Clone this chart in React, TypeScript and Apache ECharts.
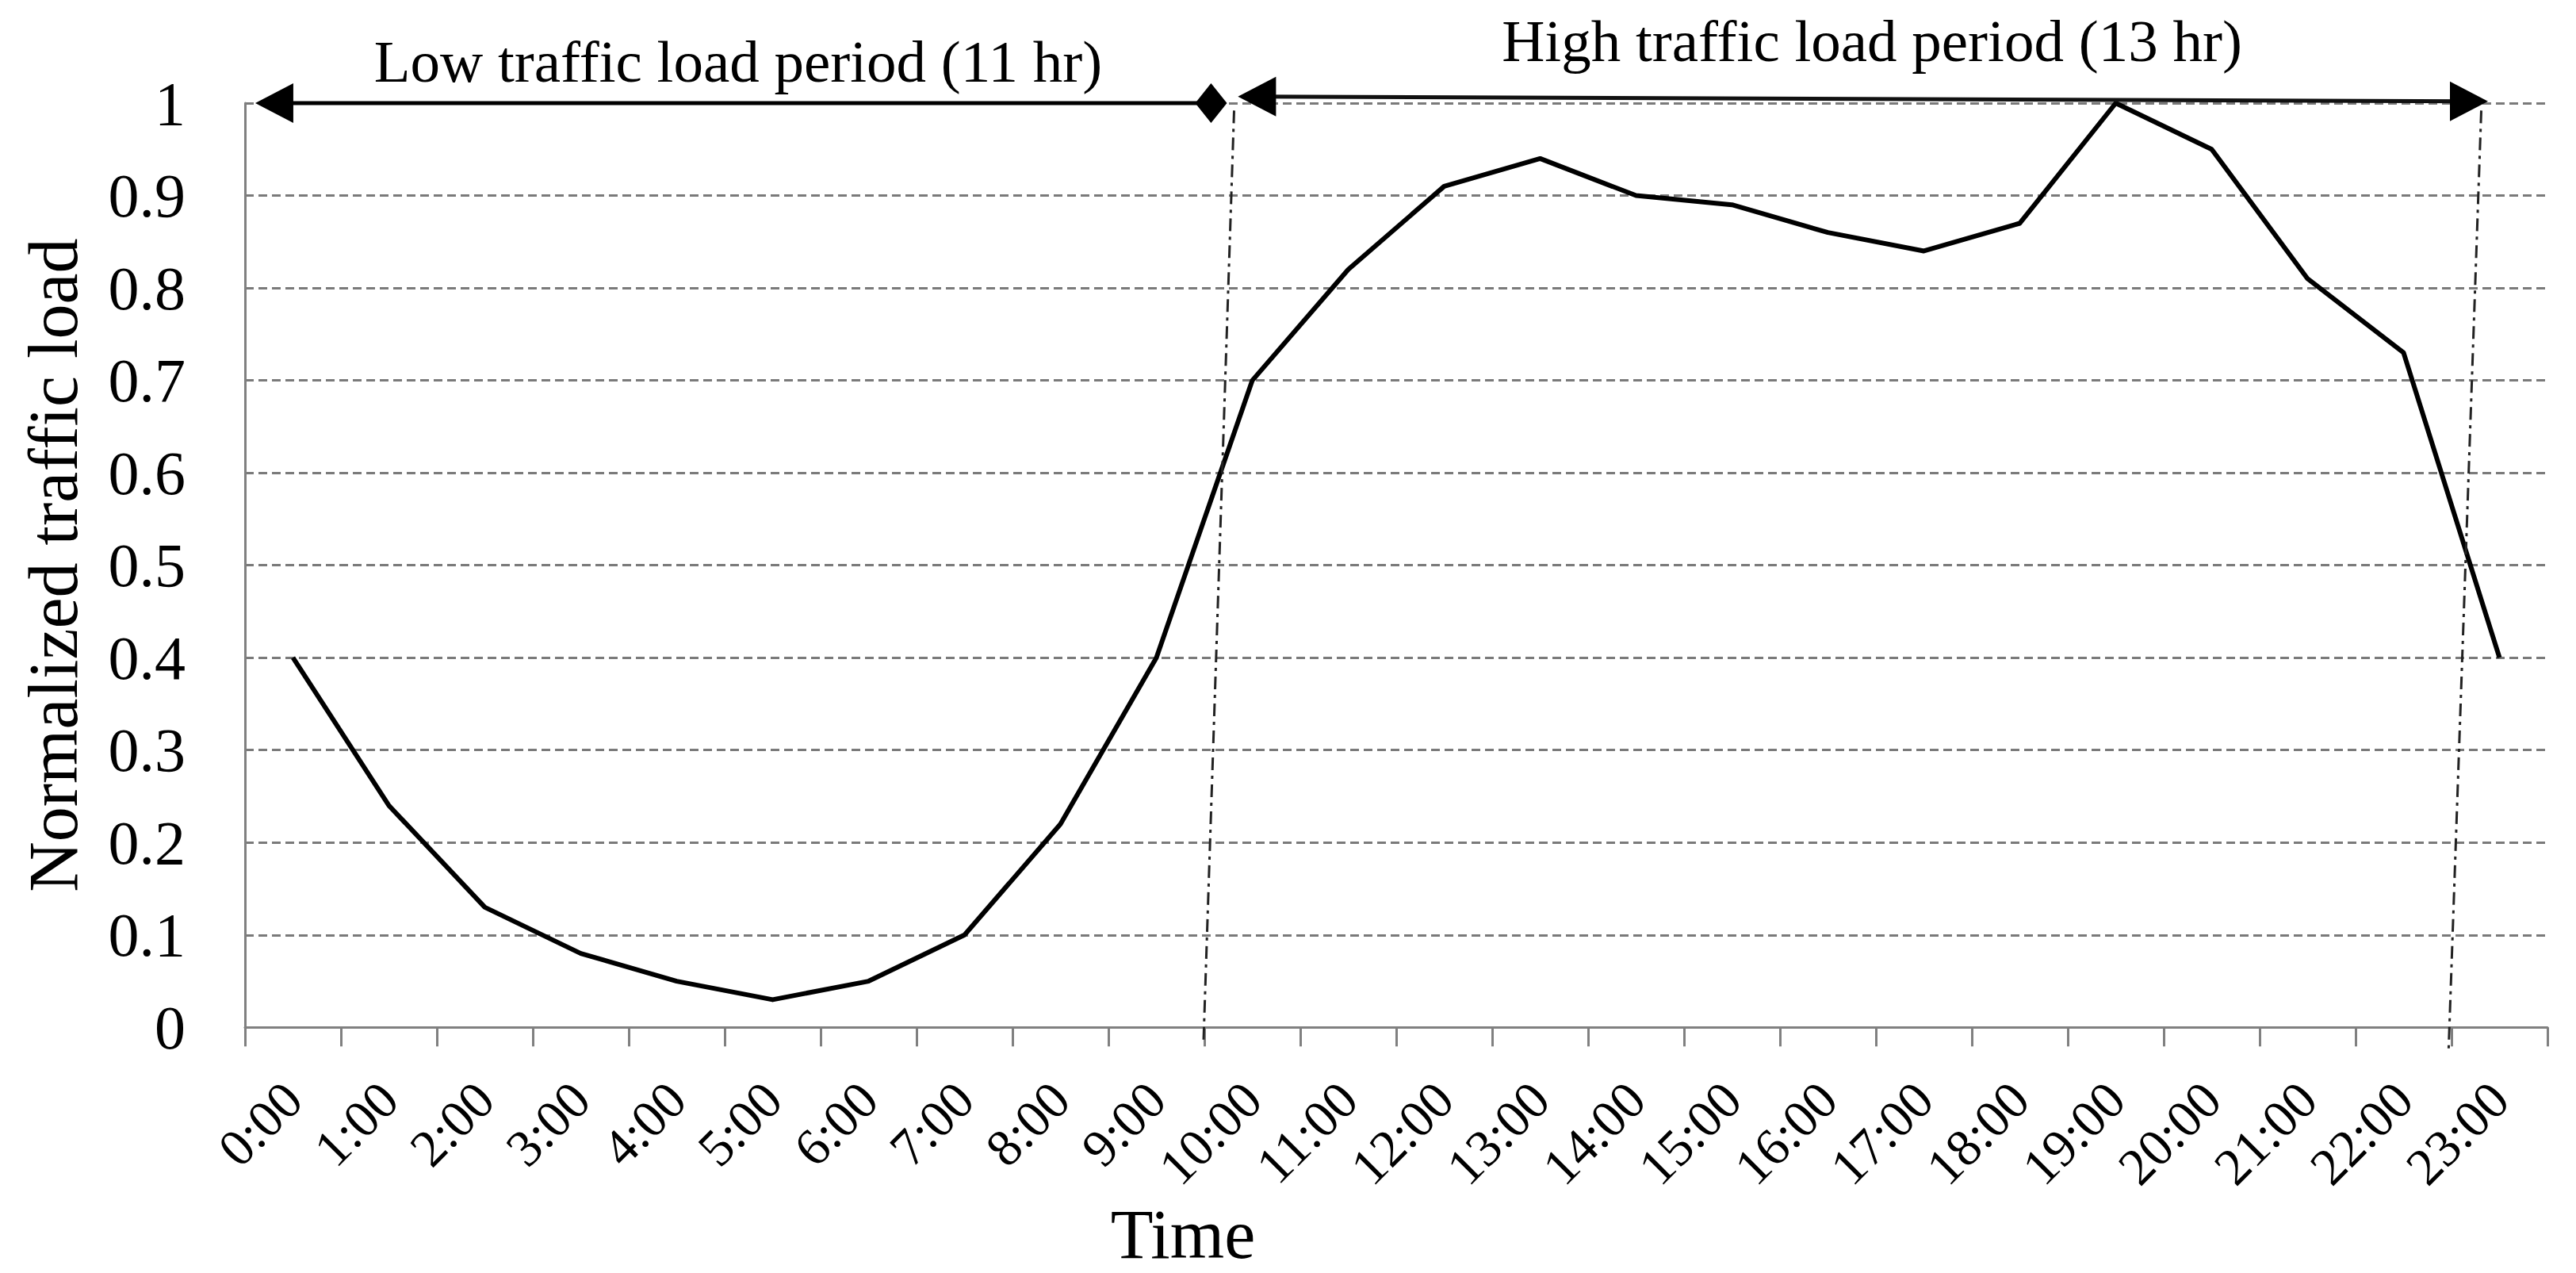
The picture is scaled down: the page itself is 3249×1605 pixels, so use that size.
import React, { useEffect, useRef } from "react";
import * as echarts from "echarts";

// ---------- data ----------
const hours = [
  "0:00", "1:00", "2:00", "3:00", "4:00", "5:00", "6:00", "7:00",
  "8:00", "9:00", "10:00", "11:00", "12:00", "13:00", "14:00", "15:00",
  "16:00", "17:00", "18:00", "19:00", "20:00", "21:00", "22:00", "23:00",
];
const trafficLoad = [
  0.40, 0.24, 0.13, 0.08, 0.05, 0.03, 0.05, 0.10, 0.22, 0.40, 0.70, 0.82,
  0.91, 0.94, 0.90, 0.89, 0.86, 0.84, 0.87, 1.00, 0.95, 0.81, 0.73, 0.40,
];
const yTickLabels = ["0", "0.1", "0.2", "0.3", "0.4", "0.5", "0.6", "0.7", "0.8", "0.9", "1"];
const lowPeriodLabel = "Low traffic load period (11 hr)";
const highPeriodLabel = "High traffic load period (13 hr)";
const xAxisTitle = "Time";
const yAxisTitle = "Normalized traffic load";

// ---------- layout ----------
const W = 3249;
const H = 1605;
const PLOT_LEFT = 309;
const PLOT_RIGHT = 3213;
const PLOT_TOP = 130;
const PLOT_BOTTOM = 1307;
const FONT = '"Liberation Serif", "Times New Roman", serif';

const catW = (PLOT_RIGHT - PLOT_LEFT) / hours.length;
const xAt = (h: number) => PLOT_LEFT + h * catW; // h = position in hours from the left edge
const yAt = (v: number) => PLOT_BOTTOM - v * (PLOT_BOTTOM - PLOT_TOP);

export default function App() {
  const ref = useRef<HTMLDivElement>(null);

  useEffect(() => {
    const chart = echarts.init(ref.current!, null, { renderer: "svg" });

    const AL = 48; // arrowhead length
    const AH = 25; // arrowhead half width

    // low period arrow
    const lowTipX = xAt(0.107), lowY = yAt(1.0);
    const diamondX = xAt(10.07), diamondY = yAt(1.0);
    // high period arrow
    const hiLX = xAt(10.35), hiLY = yAt(1.007);
    const hiRX = xAt(23.38), hiRY = yAt(1.002);

    const leftTri = (tx: number, ty: number) => [[tx, ty], [tx + AL, ty - AH], [tx + AL, ty + AH]];
    const rightTri = (tx: number, ty: number) => [[tx, ty], [tx - AL, ty - AH], [tx - AL, ty + AH]];

    const dashDot = { stroke: "#222", lineWidth: 3, lineDash: [16, 7, 4, 7] };

    chart.setOption({
      animation: false,
      backgroundColor: "#ffffff",
      grid: {
        left: PLOT_LEFT,
        right: W - PLOT_RIGHT,
        top: PLOT_TOP,
        bottom: H - PLOT_BOTTOM,
        containLabel: false,
      },
      xAxis: {
        type: "category",
        data: hours,
        boundaryGap: true,
        name: xAxisTitle,
        nameLocation: "middle",
        nameGap: 192,
        nameTextStyle: {
          fontFamily: FONT,
          fontSize: 88,
          color: "#000",
          padding: [0, 538, 0, 0],
        },
        axisLine: { show: true, lineStyle: { color: "#808080", width: 3 } },
        axisTick: { show: true, length: 24, inside: false, lineStyle: { color: "#808080", width: 3 } },
        axisLabel: {
          interval: 0,
          rotate: 45,
          margin: 80,
          fontFamily: FONT,
          fontSize: 66,
          color: "#000",
        },
        splitLine: { show: false },
      },
      yAxis: {
        type: "value",
        min: 0,
        max: 1,
        interval: 0.1,
        name: yAxisTitle,
        nameLocation: "middle",
        nameGap: 198,
        nameTextStyle: { fontFamily: FONT, fontSize: 88, color: "#000" },
        axisLine: { show: true, lineStyle: { color: "#808080", width: 3 } },
        axisTick: { show: false },
        axisLabel: {
          margin: 75,
          fontFamily: FONT,
          fontSize: 78,
          color: "#000",
          formatter: (v: number) => yTickLabels[Math.round(v * 10)] ?? "",
        },
        splitLine: {
          show: true,
          lineStyle: { color: "#7a7a7a", width: 3, type: [11, 6] },
        },
      },
      series: [
        {
          type: "line",
          data: trafficLoad,
          symbol: "none",
          smooth: false,
          lineStyle: { color: "#000", width: 6, join: "round" },
          z: 3,
        },
      ],
      graphic: [
        // dash-dot separators
        {
          type: "line", z: 50,
          shape: { x1: xAt(10.31), y1: yAt(0.992), x2: xAt(9.99), y2: yAt(-0.009) },
          style: dashDot,
        },
        {
          type: "line", z: 50,
          shape: { x1: xAt(23.31), y1: yAt(0.992), x2: xAt(22.97), y2: yAt(-0.013) },
          style: dashDot,
        },
        // low period arrow
        {
          type: "line", z: 60,
          shape: { x1: lowTipX + 20, y1: lowY, x2: diamondX, y2: diamondY },
          style: { stroke: "#000", lineWidth: 5 },
        },
        {
          type: "polygon", z: 61,
          shape: { points: leftTri(lowTipX, lowY) },
          style: { fill: "#000" },
        },
        {
          type: "polygon", z: 61,
          shape: {
            points: [
              [diamondX - 20, diamondY],
              [diamondX, diamondY - 25],
              [diamondX + 20, diamondY],
              [diamondX, diamondY + 25],
            ],
          },
          style: { fill: "#000" },
        },
        // high period arrow
        {
          type: "line", z: 60,
          shape: { x1: hiLX + 20, y1: hiLY, x2: hiRX - 20, y2: hiRY },
          style: { stroke: "#111", lineWidth: 5 },
        },
        {
          type: "polygon", z: 61,
          shape: { points: leftTri(hiLX, hiLY) },
          style: { fill: "#000" },
        },
        {
          type: "polygon", z: 61,
          shape: { points: rightTri(hiRX, hiRY) },
          style: { fill: "#000" },
        },
        // period labels
        {
          type: "text", z: 70,
          style: {
            text: lowPeriodLabel,
            x: 931,
            y: 77,
            fill: "#000",
            font: `75px ${FONT}`,
            textAlign: "center",
            verticalAlign: "middle",
          },
        },
        {
          type: "text", z: 70,
          style: {
            text: highPeriodLabel,
            x: 2361,
            y: 51,
            fill: "#000",
            font: `75px ${FONT}`,
            textAlign: "center",
            verticalAlign: "middle",
          },
        },
      ],
    });

    return () => chart.dispose();
  }, []);

  return (
    <div
      ref={ref}
      style={{ position: "absolute", left: 0, top: 0, width: W, height: H, background: "#fff" }}
    />
  );
}
